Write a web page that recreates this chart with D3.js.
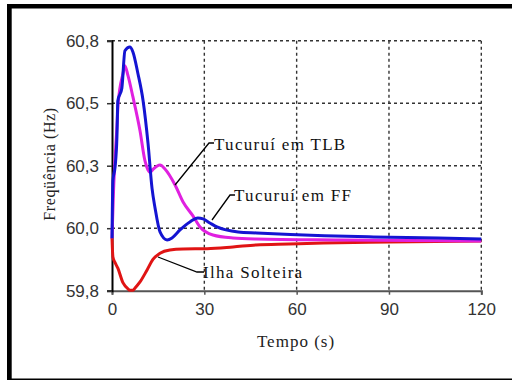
<!DOCTYPE html>
<html><head><meta charset="utf-8">
<script src="https://cdn.jsdelivr.net/npm/d3@7"></script>
<style>body{margin:0;background:#fff}svg{display:block}</style>
</head><body>
<svg id="c" width="512" height="380"></svg>
<script>
// ---- data ----
const xTicks = [0, 30, 60, 90, 120];
const yTicks = [59.75, 60.0, 60.25, 60.5, 60.75];
const yTickLabels = ["59,8", "60,0", "60,3", "60,5", "60,8"];
const xTitle = "Tempo (s)";
const yTitle = "Freqüência (Hz)";

// Tucuruí em FF (blue)
const ffT = [0, 0.3, 1, 1.6, 1.9, 3.2, 4.2, 5.8, 6.8, 8.4, 10.1, 11.7, 13, 14, 15.6, 17.9, 19.5, 22.1, 25.3, 27.9, 29.6, 31.8, 34.1, 41, 47, 58, 69, 85, 106, 120];
const ffF = [59.96, 60.19, 60.245, 60.365, 60.51, 60.56, 60.71, 60.725, 60.705, 60.62, 60.51, 60.34, 60.16, 60.08, 59.985, 59.953, 59.961, 59.993, 60.025, 60.041, 60.037, 60.021, 60.005, 59.985, 59.981, 59.975, 59.97, 59.965, 59.961, 59.957];
// Tucuruí em TLB (magenta)
const tlbT = [0, 0.5, 1.6, 2, 3.6, 4.2, 5.2, 6.8, 9.1, 10.7, 11.7, 12.4, 13.3, 15.6, 17.2, 20.5, 23.1, 26.3, 28.6, 32.8, 39.3, 46.8, 74, 120];
const tlbF = [59.96, 60.15, 60.405, 60.50, 60.62, 60.65, 60.61, 60.525, 60.39, 60.27, 60.233, 60.223, 60.235, 60.253, 60.237, 60.173, 60.105, 60.049, 60.005, 59.973, 59.961, 59.957, 59.953, 59.949];
// Ilha Solteira (red)
const isT = [0, 0.3, 1, 1.9, 3.6, 5.2, 5.8, 6.8, 7.5, 9.1, 11.4, 13.3, 15.6, 18.8, 23.1, 30.9, 39.3, 46.8, 57.5, 68.6, 90, 120];
const isF = [59.961, 59.885, 59.862, 59.84, 59.781, 59.757, 59.752, 59.752, 59.761, 59.785, 59.833, 59.875, 59.9, 59.913, 59.917, 59.918, 59.925, 59.933, 59.937, 59.941, 59.945, 59.949];

const seriesNames = ["Tucuruí em FF", "Tucuruí em TLB", "Ilha Solteira"];
const seriesColors = ["#1414d2", "#e020e0", "#e01414"];

// ---- drawing ----
const svg = d3.select("#c");
const x = d3.scaleLinear().domain([0, 120]).range([112, 481.3]);
const y = d3.scaleLinear().domain([59.75, 60.75]).range([290.7, 40.7]);

// frame
svg.append("rect").attr("x", 7).attr("y", 4).attr("width", 505).attr("height", 4.5).attr("fill", "#000");
svg.append("rect").attr("x", 7).attr("y", 4).attr("width", 4.7).attr("height", 376).attr("fill", "#000");
svg.append("rect").attr("x", 7).attr("y", 378.5).attr("width", 505).attr("height", 1.5).attr("fill", "#000");

// gridlines
const grid = svg.append("g").attr("stroke", "#333").attr("stroke-width", 1.4).attr("stroke-dasharray", "3,3");
grid.selectAll("line.h").data(yTicks.slice(1)).join("line")
  .attr("x1", x(0)).attr("x2", x(120)).attr("y1", d => y(d)).attr("y2", d => y(d));
grid.selectAll("line.v").data(xTicks.slice(1)).join("line")
  .attr("y1", y(60.75)).attr("y2", y(59.75)).attr("x1", d => x(d)).attr("x2", d => x(d));

// axes
const xAxis = d3.axisBottom(x).tickValues(xTicks).tickSize(4).tickPadding(8).tickFormat(d3.format("d"));
const gx = svg.append("g").attr("transform", `translate(0,${y(59.75)})`).call(xAxis);
gx.select(".domain").attr("stroke", "#555").attr("stroke-width", 2);
gx.selectAll(".tick line").attr("stroke", "#555").attr("stroke-width", 1.5);
gx.selectAll(".tick text").attr("font-family", "Liberation Sans, Arial, sans-serif").attr("font-size", 17).attr("fill", "#333");

const yAxis = d3.axisLeft(y).tickValues(yTicks).tickSize(5).tickPadding(8).tickFormat((d, i) => yTickLabels[i]);
const gy = svg.append("g").attr("transform", `translate(${x(0)},0)`).call(yAxis);
gy.select(".domain").attr("stroke", "#000").attr("stroke-width", 2);
gy.selectAll(".tick line").attr("stroke", "#333").attr("stroke-width", 1.5);
gy.selectAll(".tick text").attr("font-family", "Liberation Sans, Arial, sans-serif").attr("font-size", 17).attr("fill", "#333");

// titles
svg.append("text").attr("x", 296).attr("y", 347).attr("text-anchor", "middle")
  .attr("font-family", "Liberation Serif, Times New Roman, serif").attr("font-size", 17)
  .attr("letter-spacing", 1).attr("fill", "#222").text(xTitle);
svg.append("text").attr("transform", "translate(55,164) rotate(-90)").attr("text-anchor", "middle")
  .attr("font-family", "Liberation Serif, Times New Roman, serif").attr("font-size", 16)
  .attr("letter-spacing", 0.6).attr("fill", "#222").text(yTitle);

// lines
const line = d3.line().x(d => x(d[0])).y(d => y(d[1])).curve(d3.curveMonotoneX);
const series = [
  d3.zip(isT, isF),
  d3.zip(tlbT, tlbF),
  d3.zip(ffT, ffF)
];
const order = [2, 1, 0];
series.forEach((s, i) => {
  svg.append("path").attr("d", line(s)).attr("fill", "none")
    .attr("stroke", seriesColors[order[i]]).attr("stroke-width", 3).attr("stroke-linejoin", "round");
});

// annotations
const ann = [
  {name: seriesNames[1], pts: [[175, 185], [209, 143], [214, 143]], tx: 214, ty: 150},
  {name: seriesNames[0], pts: [[212, 220], [230, 195], [235, 195]], tx: 234, ty: 201},
  {name: seriesNames[2], pts: [[158, 257], [197, 272], [204, 272]], tx: 203, ty: 278}
];
ann.forEach(a => {
  svg.append("path").attr("d", d3.line()(a.pts)).attr("fill", "none").attr("stroke", "#000").attr("stroke-width", 1.3);
  svg.append("text").attr("x", a.tx).attr("y", a.ty)
    .attr("font-family", "Liberation Serif, Times New Roman, serif").attr("font-size", 17)
    .attr("letter-spacing", 1.3).attr("fill", "#111").text(a.name);
});
</script>
</body></html>
